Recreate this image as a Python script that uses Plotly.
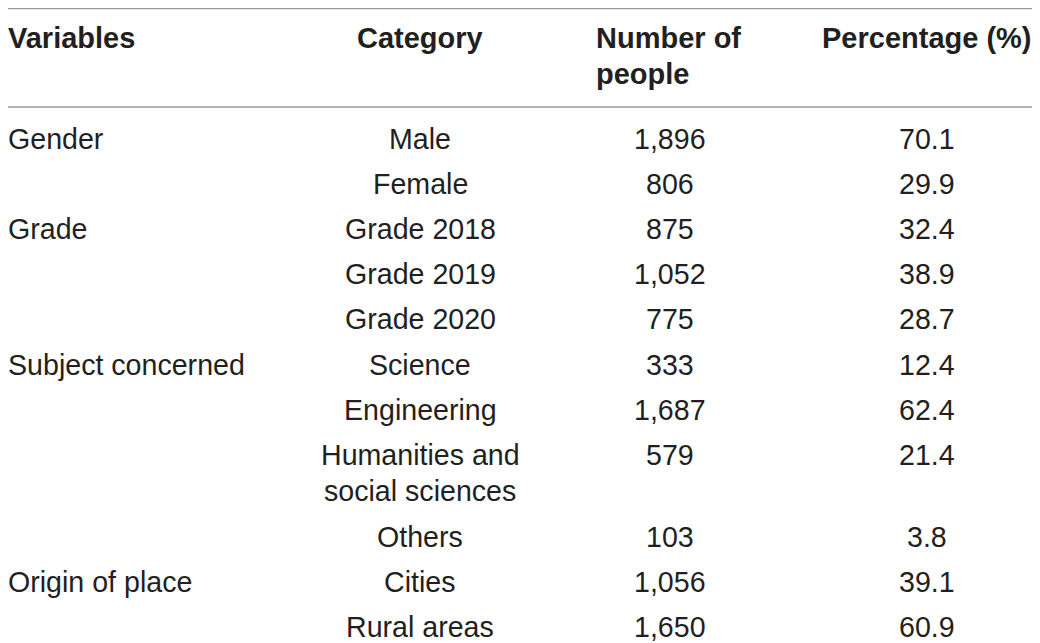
import plotly.graph_objects as go

# table contents
headers = ["Variables", "Category", "Number of<br>people", "Percentage (%)"]
variables = ["Gender", "", "Grade", "", "", "Subject concerned", "", "", "", "Origin of place", ""]
category = ["Male", "Female", "Grade 2018", "Grade 2019", "Grade 2020", "Science", "Engineering",
            "Humanities and<br>social sciences", "Others", "Cities", "Rural areas"]
people = ["1,896", "806", "875", "1,052", "775", "333", "1,687", "579", "103", "1,056", "1,650"]
percent = ["70.1", "29.9", "32.4", "38.9", "28.7", "12.4", "62.4", "21.4", "3.8", "39.1", "60.9"]

columns = [variables, category, people, percent]

# the page body has an 8px margin, so the axes are set up in window pixels
PAGE_MARGIN = 8
WIN_W, WIN_H = 1040, 643
W, H = WIN_W - PAGE_MARGIN, WIN_H - PAGE_MARGIN
FONT = "Liberation Sans, Arial, Helvetica, sans-serif"
INK = "#231f20"
RULE = "#9a9a9a"

# layout of the table (window pixels)
col_x_head = [8, 420, 596, 927]
anchor_head = ["left", "center", "left", "center"]
col_x_body = [8, 420, 670, 927]
anchor_body = ["left", "center", "center", "center"]
rule_top, rule_head = 8.7, 107
head_first = 37.5
body_first = 139
row_pitch = 45.1
line_gap = 36.7

fig = go.Figure()
# invisible trace so the pixel axes exist
fig.add_trace(go.Scatter(x=[PAGE_MARGIN, WIN_W], y=[PAGE_MARGIN, WIN_H], mode="markers",
                         marker=dict(opacity=0), hoverinfo="skip", showlegend=False))


def put(text, x, y, anchor, bold):
    fig.add_annotation(x=x, y=y, xref="x", yref="y", text=text, showarrow=False,
                       xanchor=anchor, yanchor="middle", borderpad=0, borderwidth=0,
                       font=dict(family=FONT, size=29 if bold else 28.6, color=INK,
                                 weight="bold" if bold else "normal"))


# header cells
for c, h in enumerate(headers):
    for j, part in enumerate(h.split("<br>")):
        put(part, col_x_head[c], head_first + j * line_gap, anchor_head[c], True)

# body cells
y = body_first
for r in range(len(category)):
    nlines = 1
    for c, col in enumerate(columns):
        parts = col[r].split("<br>")
        nlines = max(nlines, len(parts))
        for j, part in enumerate(parts):
            if part:
                put(part, col_x_body[c], y + j * line_gap, anchor_body[c], False)
    y += row_pitch + (nlines - 1) * line_gap

# horizontal rules
for py in [rule_top, rule_head]:
    fig.add_shape(type="line", xref="x", yref="y", x0=0, x1=1033, y0=py, y1=py,
                  line=dict(color=RULE, width=1.3))

fig.update_xaxes(range=[PAGE_MARGIN, WIN_W], visible=False, fixedrange=True)
fig.update_yaxes(range=[WIN_H, PAGE_MARGIN], visible=False, fixedrange=True)
fig.update_layout(
    width=W, height=H,
    margin=dict(l=0, r=0, t=0, b=0),
    paper_bgcolor="white", plot_bgcolor="white",
)

fig.write_html("out.html")
